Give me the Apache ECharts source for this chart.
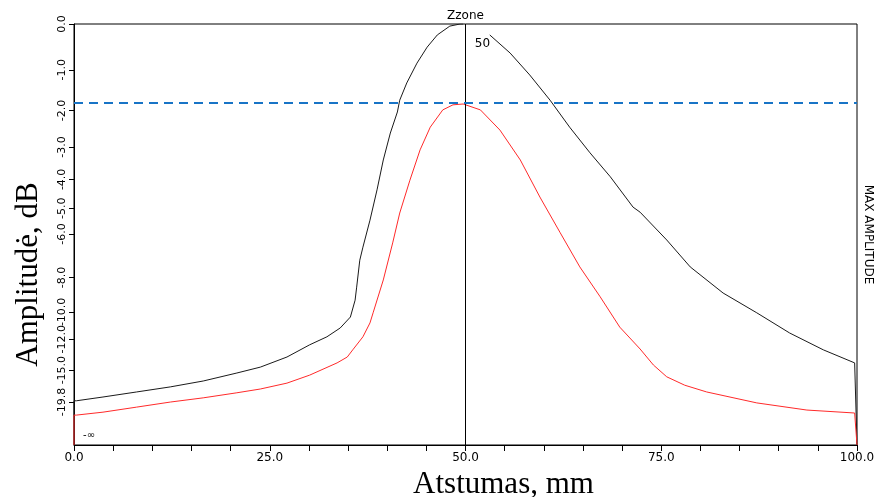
<!DOCTYPE html>
<html>
<head>
<meta charset="utf-8">
<script src="https://cdn.jsdelivr.net/npm/echarts@6/dist/echarts.min.js"></script>
<style>
  html, body { margin: 0; padding: 0; background: #fff; }
  #chart { width: 877px; height: 497px; }
</style>
</head>
<body>
<div id="chart"></div>
<script>
// distance along the scan, mm, and linear amplitude in % of max (y axis is linear, labelled in dB)
const blackDistance = [0, 0, 0.3, 3.7, 8.0, 12.3, 16.5, 20.8, 23.8, 27.2, 30.1, 32.3, 34.0, 35.3, 35.9,
  36.1, 36.5, 36.9, 37.8, 38.7, 39.5, 40.4, 41.3, 41.6, 42.5, 43.8, 45.1, 46.4, 48.0, 49.3, 49.7,
  51.0, 53.1, 55.7, 58.2, 60.8, 63.3, 65.9, 68.5, 71.4, 72.3, 75.7, 78.7, 82.9, 87.2, 91.4, 95.7, 99.7, 100];
const blackAmplitude = [0, 10.5, 10.5, 11.4, 12.6, 13.8, 15.2, 17.1, 18.5, 20.9, 23.8, 25.7, 27.8, 30.4, 34.4,
  37.5, 43.9, 47.0, 53.4, 60.6, 67.7, 74.1, 79.1, 81.9, 86.0, 90.7, 94.5, 97.4, 99.5, 100, 100,
  null, 97.4, 93.1, 87.9, 81.9, 75.5, 69.4, 63.7, 56.5, 55.3, 48.7, 42.3, 36.1, 31.4, 26.6, 22.6, 19.5, 0];

const redDistance = [0, 0, 0.3, 3.7, 8.0, 12.3, 16.5, 20.8, 23.8, 27.2, 30.1, 33.6, 34.9, 35.6, 36.9,
  37.8, 38.2, 39.5, 40.7, 41.6, 42.9, 44.2, 45.5, 47.1, 48.4, 49.7, 51.9, 54.4, 57.0, 59.5, 62.1,
  64.6, 67.2, 69.7, 72.3, 74.0, 75.7, 78.0, 80.8, 87.2, 93.6, 99.7, 100];
const redAmplitude = [0, 7.1, 7.1, 7.8, 9.0, 10.2, 11.2, 12.4, 13.3, 14.7, 16.6, 19.5, 20.9, 22.6, 25.7,
  29.0, 31.4, 39.2, 48.0, 55.1, 62.9, 70.1, 75.5, 79.6, 80.8, 81.0, 79.6, 74.8, 67.7, 58.9, 50.4,
  42.3, 35.2, 28.0, 22.8, 19.0, 16.2, 14.2, 12.6, 10.0, 8.3, 7.6, 0];

const dbTickLabels = ["0.0", "-1.0", "-2.0", "-3.0", "-4.0", "-5.0", "-6.0", "-8.0", "-10.0", "-12.0", "-15.0", "-19.8"];
const referenceLevelDb = -1.8;
const zoneDistance = 50;

const dbToPercent = (db) => 100 * Math.pow(10, db / 20);
const tickValues = dbTickLabels.map((s) => dbToPercent(parseFloat(s)));

const pair = (xs, ys) => xs.map((x, i) => [x, ys[i]]);

const chart = echarts.init(document.getElementById("chart"), null, { renderer: "canvas" });

chart.setOption({
  animation: false,
  grid: {
    left: 74, right: 20, top: 24, bottom: 52,
    outerBoundsMode: "none",
    show: true, borderColor: "#000", borderWidth: 1,
  },
  xAxis: {
    type: "value",
    min: 0,
    max: 100,
    interval: 5,
    name: "Atstumas, mm",
    nameLocation: "middle",
    nameGap: 17,
    nameTextStyle: { fontFamily: "Liberation Serif", fontSize: 31, color: "#000", padding: [0, 0, 0, 76] },
    axisLine: { lineStyle: { color: "#000", width: 1 } },
    axisTick: { length: 6, lineStyle: { color: "#000" } },
    axisLabel: {
      margin: 7,
      fontFamily: "DejaVu Sans",
      fontSize: 12,
      color: "#000",
      formatter: (v) => (v % 25 === 0 ? v.toFixed(1) : ""),
    },
    splitLine: { show: false },
  },
  yAxis: [
    {
      type: "value",
      min: 0,
      max: 100,
      name: "Amplitudė, dB",
      nameLocation: "middle",
      nameGap: 30,
      nameTextStyle: { fontFamily: "Liberation Serif", fontSize: 31, color: "#000", padding: [0, 80, 0, 0] },
      axisLine: { show: true, lineStyle: { color: "#000", width: 1 } },
      axisTick: { show: true, length: 5, customValues: tickValues, lineStyle: { color: "#000" } },
      axisLabel: {
        customValues: tickValues,
        rotate: 90,
        margin: 6,
        fontFamily: "DejaVu Sans",
        fontSize: 11,
        color: "#000",
        formatter: (v) => {
          let best = 0;
          tickValues.forEach((t, i) => { if (Math.abs(t - v) < Math.abs(tickValues[best] - v)) best = i; });
          return dbTickLabels[best];
        },
      },
      splitLine: { show: false },
    },
    {
      type: "value",
      min: 0,
      max: 100,
      position: "right",
      name: "MAX AMPLITUDE",
      nameLocation: "middle",
      nameGap: 5,
      nameRotate: -90,
      nameTextStyle: { fontFamily: "DejaVu Sans", fontSize: 12, color: "#000" },
      axisLine: { show: false },
      axisTick: { show: false },
      axisLabel: { show: false },
      splitLine: { show: false },
    },
  ],
  series: [
    {
      name: "max",
      type: "line",
      data: pair(blackDistance, blackAmplitude),
      showSymbol: false,
      connectNulls: false,
      lineStyle: { color: "#1a1a1a", width: 1 },
      markLine: {
        silent: true,
        symbol: "none",
        lineStyle: { color: "#000", width: 1, type: "solid" },
        label: {
          position: "end",
          distance: 2,
          formatter: "Zzone",
          fontFamily: "DejaVu Sans",
          fontSize: 12,
          color: "#000",
        },
        data: [{ xAxis: zoneDistance }],
      },
      markPoint: {
        silent: true,
        symbolSize: 0,
        label: { show: true, fontFamily: "DejaVu Sans", fontSize: 12, color: "#000" },
        data: [
          { coord: [zoneDistance, 100], label: { formatter: String(zoneDistance), offset: [17, 20] } },
          { coord: [0, 0], label: { formatter: "-∞", fontSize: 10, offset: [15, -10] } },
        ],
      },
    },
    {
      name: "current",
      type: "line",
      data: pair(redDistance, redAmplitude),
      showSymbol: false,
      lineStyle: { color: "#ff2a2a", width: 1 },
      markLine: {
        silent: true,
        symbol: "none",
        label: { show: false },
        lineStyle: { color: "#1874c6", width: 2, type: [9, 6] },
        data: [{ yAxis: dbToPercent(referenceLevelDb) }],
      },
    },
  ],
});
</script>
</body>
</html>
